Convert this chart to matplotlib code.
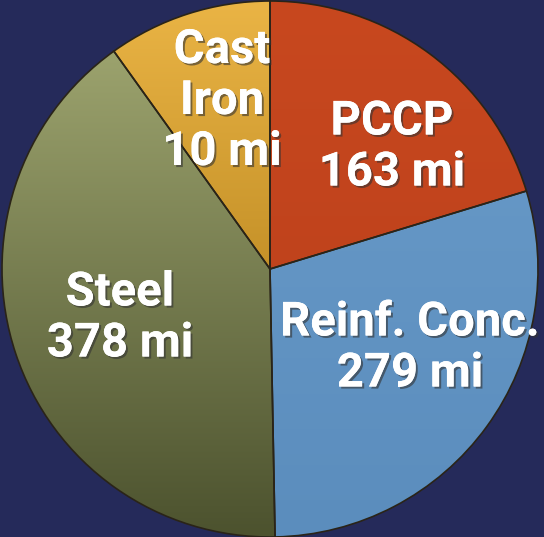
import matplotlib.pyplot as plt
import matplotlib.patheffects as pe
import numpy as np
from matplotlib.colors import LinearSegmentedColormap

# pipe material, miles, and the share of the disc each slice takes in the picture
materials = ['PCCP', 'Reinf. Conc.', 'Steel', 'Cast\nIron']
miles = [163, 279, 378, 10]
shares = [20.3, 29.4, 40.4, 9.9]

# light (top) and dark (bottom) shade of each slice
top_colors = ['#c8481f', '#6a9cca', '#a4ab74', '#eab445']
bottom_colors = ['#b83e1a', '#5b8dbd', '#4c522e', '#a06f0c']

# label centres in pixels from the top-left corner
label_px = [(392, 147), (410, 348), (120, 318), (222, 101)]

W, H = 544, 537
fig = plt.figure(figsize=(W / 100, H / 100), dpi=100)
fig.patch.set_facecolor('#252a5a')
ax = fig.add_axes([0, 0, 1, 1])
ax.set_facecolor('#252a5a')

cx, cy, r = 270, H - 269, 268
wedges, _ = ax.pie(shares, startangle=90, counterclock=False,
                   center=(cx, cy), radius=r,
                   colors=top_colors,
                   wedgeprops=dict(edgecolor='#2a2418', linewidth=1.2))

# vertical gradient inside each wedge
for w, c1, c2 in zip(wedges, top_colors, bottom_colors):
    cmap = LinearSegmentedColormap.from_list('g', [c2, c1])
    grad = np.linspace(0, 1, 256).reshape(-1, 1)
    im = ax.imshow(grad, cmap=cmap, origin='lower', aspect='auto',
                   extent=[cx - r, cx + r, cy - r, cy + r], zorder=1.5)
    im.set_clip_path(w)
    w.set_facecolor('none')
    w.set_zorder(2)

for name, mi, (px, py) in zip(materials, miles, label_px):
    ax.text(px, H - py, f'{name}\n{mi} mi', ha='center', va='center',
            fontsize=34, fontweight='bold', family='Roboto', color='white',
            linespacing=1.2, zorder=5,
            path_effects=[pe.withSimplePatchShadow(offset=(1.5, -1.5),
                                                   shadow_rgbFace='#333333', alpha=0.6),
                          pe.Normal()])

ax.set_xlim(0, W)
ax.set_ylim(0, H)
ax.set_aspect('equal')
ax.axis('off')
fig.savefig('out.png', dpi=100, facecolor=fig.get_facecolor())
